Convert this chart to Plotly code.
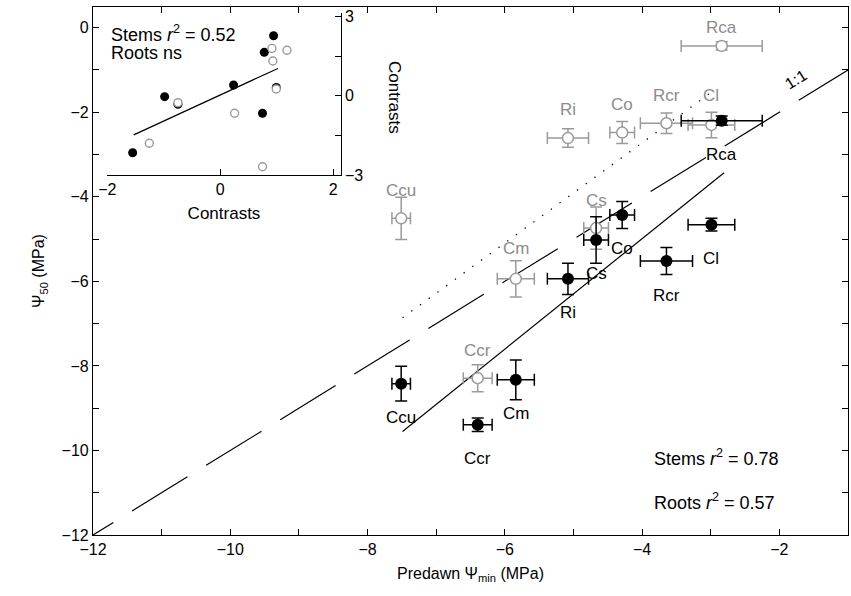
import plotly.graph_objects as go

# ---------------- data ----------------
species = ["Rca", "Cl", "Rcr", "Co", "Ri", "Ccu", "Cs", "Cm", "Ccr"]
predawn_min = [-2.84, -2.99, -3.645, -4.29, -5.08, -7.51, -4.67, -5.84, -6.395]
predawn_err = [0.59, 0.34, 0.38, 0.18, 0.30, 0.135, 0.18, 0.27, 0.21]

stem_p50 = [-2.20, -4.66, -5.52, -4.43, -5.94, -8.42, -5.02, -8.33, -9.39]
stem_p50_err = [0.11, 0.15, 0.32, 0.32, 0.37, 0.41, 0.55, 0.47, 0.16]

root_p50 = [-0.43, -2.30, -2.26, -2.48, -2.61, -4.51, -4.74, -5.94, -8.29]
root_p50_err = [0.10, 0.30, 0.24, 0.26, 0.22, 0.50, 0.50, 0.43, 0.32]

stem_fit_x = [-7.49, -2.805]
stem_fit_y = [-9.55, -3.43]
root_fit_x = [-7.49, -3.01]
root_fit_y = [-6.86, -1.55]
one_to_one = [-12.51, -1.0]

# inset: independent contrasts
inset_stem_x = [0.943, 0.778, 0.235, -0.986, -0.75, 0.747, -1.552, 0.991]
inset_stem_y = [2.28, 1.65, 0.41, -0.03, -0.32, -0.66, -2.16, 0.32]
inset_root_x = [0.913, 1.18, 0.93, -0.75, 0.991, 0.253, -1.257, 0.747]
inset_root_y = [1.80, 1.73, 1.32, -0.26, 0.26, -0.66, -1.80, -2.69]
inset_fit_x = [-1.533, 1.02]
inset_fit_y = [-1.48, 1.04]

x_major = [-12, -10, -8, -6, -4, -2]
y_major = [-12, -10, -8, -6, -4, -2, 0]
inset_x_major = [-2, 0, 2]
inset_y_major = [-3, 0, 3]
inset_y_minor = [-1.5, 1.5]

# ---------------- style ----------------
FONT = "Liberation Sans, Arial, Helvetica, sans-serif"
GRAY = "#9a9a9a"
GRAY_TXT = "#8c8c8c"
stem_label_shift = [-34] * len(species)
root_label_shift = [18, 29, 28, 28, 29, 28, 28, 30, 28]


def lab(v):
    return ("\u2212" + str(abs(v))) if v < 0 else str(v)


fig = go.Figure()

# 1:1 line
fig.add_trace(go.Scatter(x=one_to_one, y=one_to_one, mode="lines",
                         line=dict(color="black", width=1.2, dash="65px,22px"),
                         hoverinfo="skip", showlegend=False))
# roots regression (dotted)
fig.add_trace(go.Scatter(x=root_fit_x, y=root_fit_y, mode="lines",
                         line=dict(color="black", width=1.3, dash="1.3px,9.5px"),
                         hoverinfo="skip", showlegend=False))
# stems regression (solid)
fig.add_trace(go.Scatter(x=stem_fit_x, y=stem_fit_y, mode="lines",
                         line=dict(color="black", width=1.2),
                         hoverinfo="skip", showlegend=False))

# roots (gray, hollow)
fig.add_trace(go.Scatter(
    x=predawn_min, y=root_p50, mode="markers",
    marker=dict(symbol="circle", size=11, color="white",
                line=dict(color=GRAY, width=1.5)),
    error_x=dict(type="data", array=predawn_err, color=GRAY, thickness=1.5, width=6),
    error_y=dict(type="data", array=root_p50_err, color=GRAY, thickness=1.5, width=6),
    showlegend=False))

# stems (black, filled)
fig.add_trace(go.Scatter(
    x=predawn_min, y=stem_p50, mode="markers",
    marker=dict(symbol="circle", size=12, color="black",
                line=dict(color="black", width=0)),
    error_x=dict(type="data", array=predawn_err, color="black", thickness=1.5, width=6),
    error_y=dict(type="data", array=stem_p50_err, color="black", thickness=1.5, width=6),
    showlegend=False))

# inset traces
fig.add_trace(go.Scatter(x=inset_fit_x, y=inset_fit_y, mode="lines",
                         line=dict(color="black", width=1.2),
                         xaxis="x2", yaxis="y2", hoverinfo="skip", showlegend=False))
fig.add_trace(go.Scatter(x=inset_stem_x, y=inset_stem_y, mode="markers",
                         marker=dict(size=9, color="black"),
                         xaxis="x2", yaxis="y2", showlegend=False))
fig.add_trace(go.Scatter(x=inset_root_x, y=inset_root_y, mode="markers",
                         marker=dict(size=8, color="white", line=dict(color=GRAY, width=1.4)),
                         xaxis="x2", yaxis="y2", showlegend=False))

annotations = []
for name, xv, yv, s in zip(species, predawn_min, stem_p50, stem_label_shift):
    annotations.append(dict(x=xv, y=yv, xref="x", yref="y", text=name, showarrow=False,
                            yshift=s, font=dict(family=FONT, size=17, color="black")))
for name, xv, yv, s in zip(species, predawn_min, root_p50, root_label_shift):
    annotations.append(dict(x=xv, y=yv, xref="x", yref="y", text=name, showarrow=False,
                            yshift=s, font=dict(family=FONT, size=17, color=GRAY_TXT)))

annotations += [
    dict(x=-3.853, y=-10.17, xref="x", yref="y", xanchor="left", showarrow=False,
         text="Stems <i>r</i><sup>2</sup> = 0.78", font=dict(family=FONT, size=18, color="black")),
    dict(x=-3.853, y=-11.21, xref="x", yref="y", xanchor="left", showarrow=False,
         text="Roots <i>r</i><sup>2</sup> = 0.57", font=dict(family=FONT, size=18, color="black")),
    dict(x=-1.757, y=-1.236, xref="x", yref="y", showarrow=False, textangle=-31.6,
         text="1:1", font=dict(family=FONT, size=16, color="black")),
    dict(x=-1.965, y=2.38, xref="x2", yref="y2", xanchor="left", showarrow=False,
         text="Stems <i>r</i><sup>2</sup> = 0.52", font=dict(family=FONT, size=18, color="black")),
    dict(x=-1.965, y=1.62, xref="x2", yref="y2", xanchor="left", showarrow=False,
         text="Roots ns", font=dict(family=FONT, size=18, color="black")),
    dict(x=0.40, y=0.8295, xref="paper", yref="paper", xanchor="center", yanchor="middle",
         showarrow=False, textangle=90,
         text="Contrasts", font=dict(family=FONT, size=17, color="black")),
]

axis_common = dict(showgrid=False, zeroline=False, showline=True, linecolor="black",
                   linewidth=1.2, ticks="inside", ticklen=6, tickcolor="black", tickwidth=1.2,
                   tickfont=dict(family=FONT, size=16, color="black"))
minor_common = dict(ticks="inside", ticklen=6, tickcolor="black", tickwidth=1.2, showgrid=False)

fig.update_layout(
    width=851, height=596,
    margin=dict(l=93, r=3, t=7, b=61),
    paper_bgcolor="white", plot_bgcolor="white",
    font=dict(family=FONT, color="black"),
    xaxis=dict(range=[-12, -1], tickvals=x_major, ticktext=[lab(v) for v in x_major],
               minor=dict(dtick=1, tick0=0, **minor_common),
               mirror="ticks",
               title=dict(text="Predawn \u03a8<sub>min</sub> (MPa)",
                          font=dict(family=FONT, size=16), standoff=10),
               **axis_common),
    yaxis=dict(range=[-12, 0.49], tickvals=y_major, ticktext=[lab(v) for v in y_major],
               minor=dict(dtick=1, tick0=0, **minor_common),
               mirror="ticks",
               title=dict(text="\u03a8<sub>50</sub> (MPa)",
                          font=dict(family=FONT, size=16), standoff=12),
               **axis_common),
    xaxis2=dict(domain=[0.019, 0.328], anchor="y2", range=[-2, 2.13],
                tickvals=inset_x_major, ticktext=[lab(v) for v in inset_x_major],
                title=dict(text="Contrasts", font=dict(family=FONT, size=17), standoff=9),
                **axis_common),
    yaxis2=dict(domain=[0.682, 0.988], anchor="x2", side="right", range=[-3, 3.13],
                tickvals=inset_y_major, ticktext=[lab(v) for v in inset_y_major],
                minor=dict(tickvals=inset_y_minor, **minor_common),
                **axis_common),
    annotations=annotations,
)

fig.write_html("out.html")
